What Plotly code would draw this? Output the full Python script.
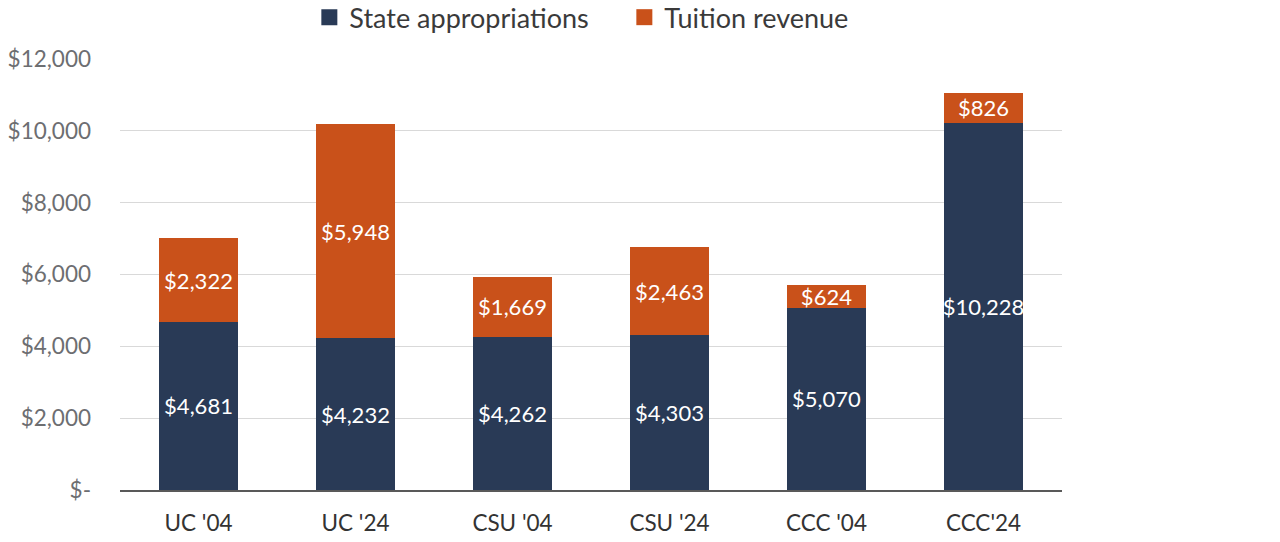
import plotly.graph_objects as go

categories = ["UC '04", "UC '24", "CSU '04", "CSU '24", "CCC '04", "CCC'24"]
state_approp = [4681, 4232, 4262, 4303, 5070, 10228]
tuition = [2322, 5948, 1669, 2463, 624, 826]
y_ticks = [0, 2000, 4000, 6000, 8000, 10000, 12000]
y_tick_labels = ["$-", "$2,000", "$4,000", "$6,000", "$8,000", "$10,000", "$12,000"]
series_names = ["State appropriations", "Tuition revenue"]
series_colors = ["#293a56", "#c9511a"]

FONT = "Lato, 'Open Sans', sans-serif"

def fmt(v):
    return "${:,}".format(v)

fig = go.Figure()
for vals, name, color in zip([state_approp, tuition], series_names, series_colors):
    fig.add_trace(go.Bar(
        x=categories, y=vals, name=name, showlegend=False,
        marker=dict(color=color, line=dict(width=0)),
        text=[fmt(v) for v in vals], textposition="inside", textangle=0,
        insidetextanchor="middle", constraintext="none",
        textfont=dict(color="white", size=22, family=FONT),
        hoverinfo="x+y+name",
    ))
# legend entries with square symbols
for name, color in zip(series_names, series_colors):
    fig.add_trace(go.Scatter(
        x=[None], y=[None], mode="markers", name=name,
        marker=dict(symbol="square", size=16, color=color),
        showlegend=True,
    ))

fig.update_layout(
    barmode="stack",
    bargap=0.5,
    width=1280, height=542,
    margin=dict(l=120, r=218, t=59, b=52, autoexpand=False),
    paper_bgcolor="white", plot_bgcolor="white",
    font=dict(family=FONT, size=22, color="#333333"),
    legend=dict(orientation="h", x=0.201, xanchor="left", y=1.096, yanchor="middle",
                yref="paper", font=dict(size=27, color="#3a3a3a"),
                itemsizing="trace", traceorder="normal", entrywidth=270,
                bgcolor="rgba(0,0,0,0)"),
    showlegend=True,
)
fig.update_yaxes(range=[0, 12000], tickvals=y_ticks, ticktext=y_tick_labels,
                 showgrid=True, gridcolor="#d9d9d9", gridwidth=1,
                 zeroline=False, showline=False,
                 tickfont=dict(size=22.5, color="#6d6e71"), ticks="", ticklabelstandoff=28)
fig.update_xaxes(showline=True, linecolor="#595959", linewidth=2,
                 tickfont=dict(size=22.5, color="#333333"), ticks="", ticklabelstandoff=12)

fig.write_html("out.html")
